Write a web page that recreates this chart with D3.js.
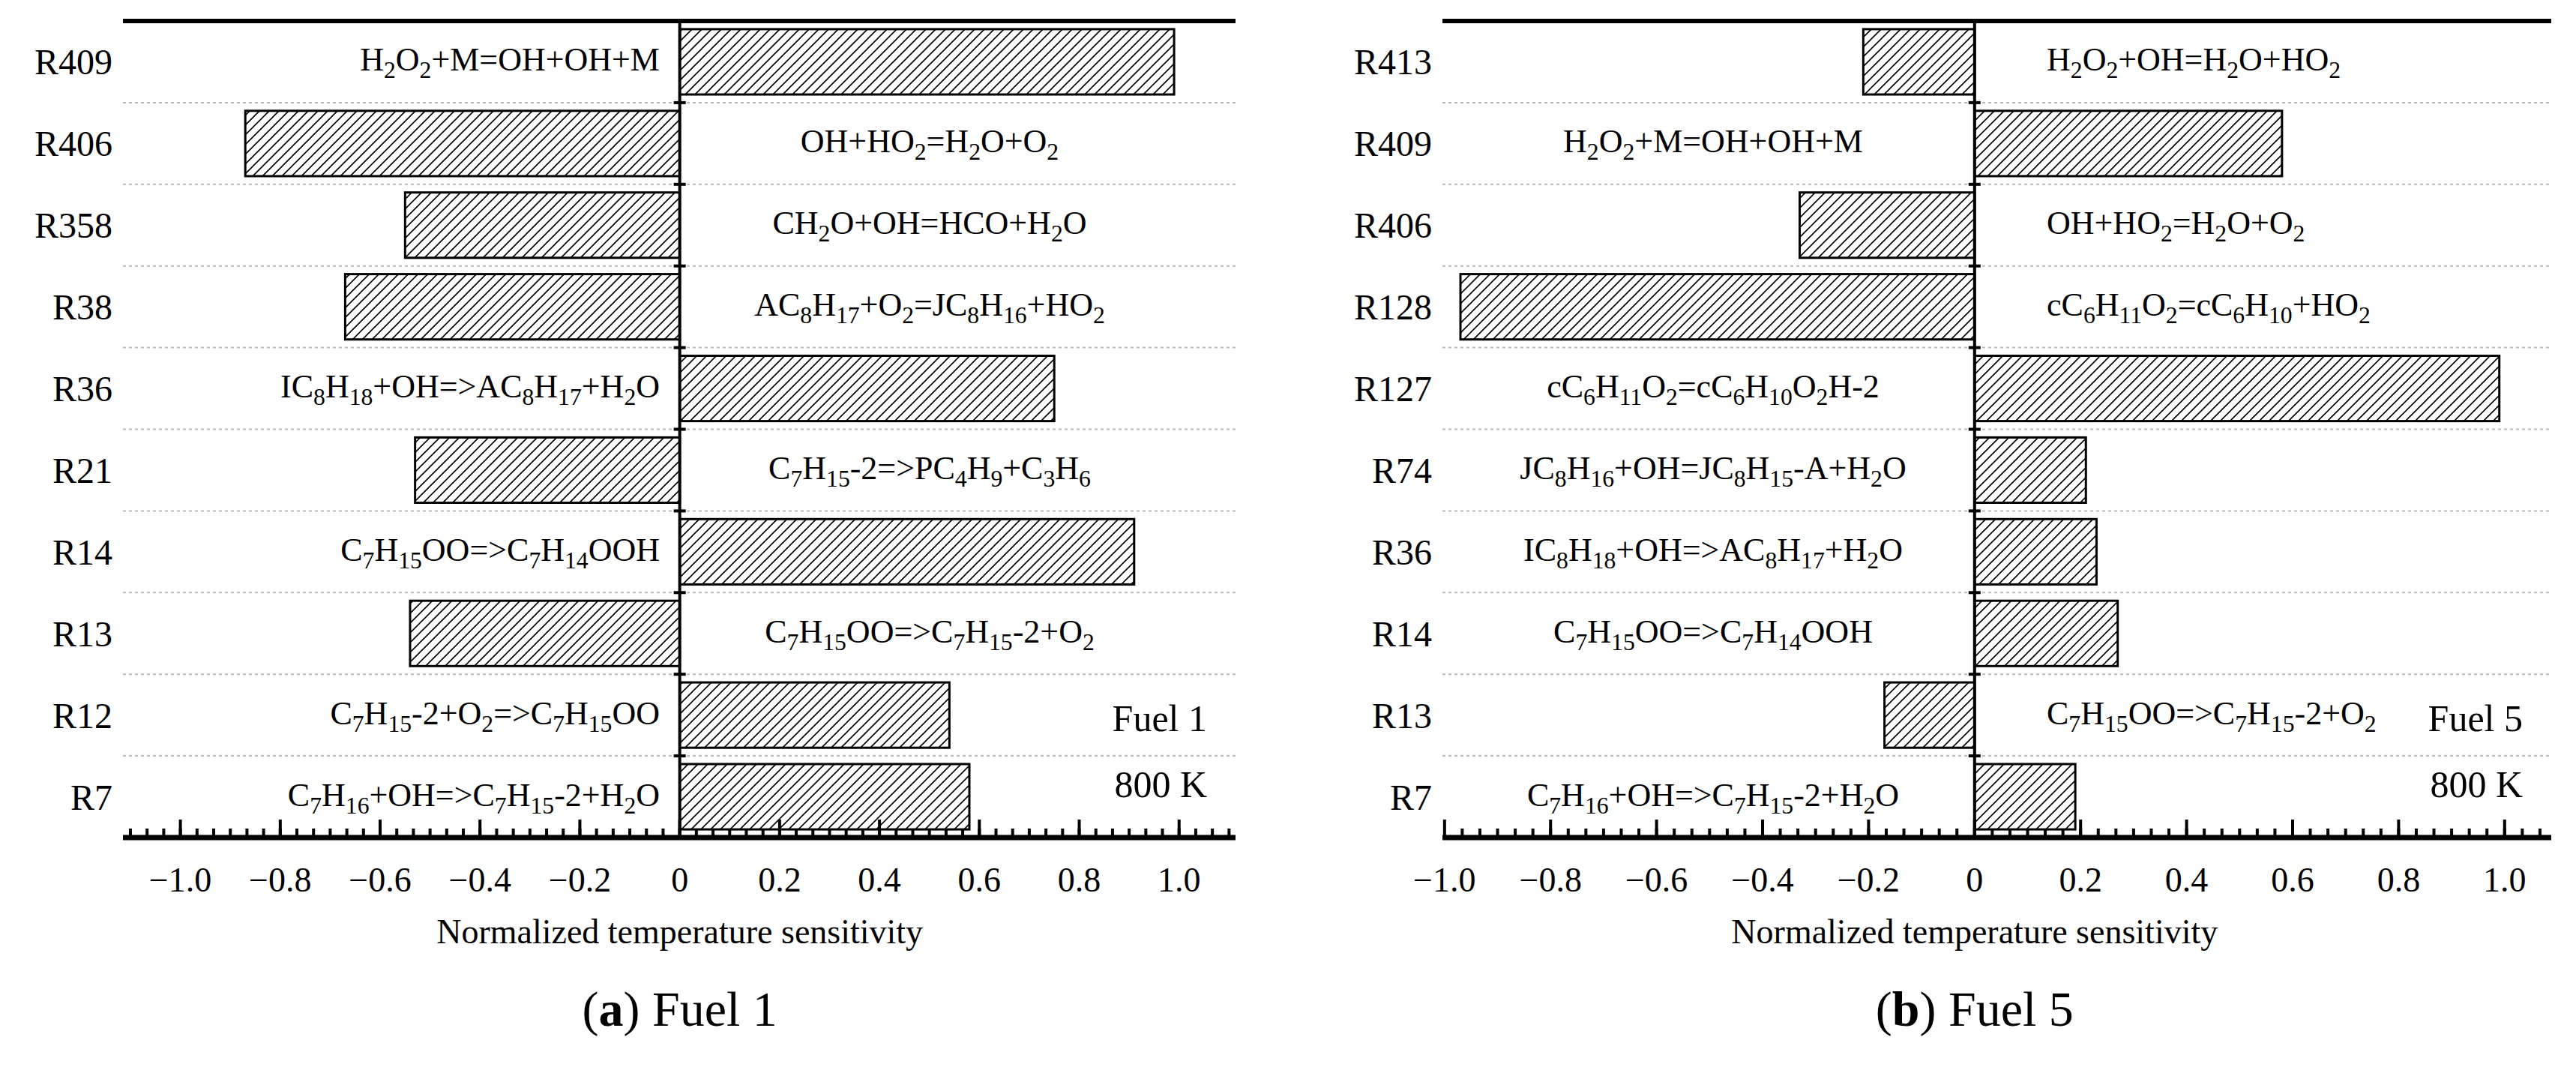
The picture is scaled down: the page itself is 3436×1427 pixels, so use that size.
<!DOCTYPE html>
<html><head><meta charset="utf-8">
<script src="https://cdn.jsdelivr.net/npm/d3@7"></script>
<style>body{margin:0;background:#fff}svg{display:block;font-family:"Liberation Serif","DejaVu Serif",serif}</style>
</head><body>
<svg id="chart" width="3436" height="1427"></svg>
<script>
// panel (a) Fuel 1
const idsA = ["R409","R406","R358","R38","R36","R21","R14","R13","R12","R7"];
const rxA = ["H_2O_2+M=OH+OH+M","OH+HO_2=H_2O+O_2","CH_2O+OH=HCO+H_2O","AC_8H_17+O_2=JC_8H_16+HO_2",
  "IC_8H_18+OH=>AC_8H_17+H_2O","C_7H_15-2=>PC_4H_9+C_3H_6","C_7H_15OO=>C_7H_14OOH",
  "C_7H_15OO=>C_7H_15-2+O_2","C_7H_15-2+O_2=>C_7H_15OO","C_7H_16+OH=>C_7H_15-2+H_2O"];
const valsA = [0.99,-0.87,-0.55,-0.67,0.75,-0.53,0.91,-0.54,0.54,0.58];
// panel (b) Fuel 5
const idsB = ["R413","R409","R406","R128","R127","R74","R36","R14","R13","R7"];
const rxB = ["H_2O_2+OH=H_2O+HO_2","H_2O_2+M=OH+OH+M","OH+HO_2=H_2O+O_2","cC_6H_11O_2=cC_6H_10+HO_2",
  "cC_6H_11O_2=cC_6H_10O_2H-2","JC_8H_16+OH=JC_8H_15-A+H_2O","IC_8H_18+OH=>AC_8H_17+H_2O",
  "C_7H_15OO=>C_7H_14OOH","C_7H_15OO=>C_7H_15-2+O_2","C_7H_16+OH=>C_7H_15-2+H_2O"];
const valsB = [-0.21,0.58,-0.33,-0.97,0.99,0.21,0.23,0.27,-0.17,0.19];
const majorTicks = [-1.0,-0.8,-0.6,-0.4,-0.2,0,0.2,0.4,0.6,0.8,1.0];

const svg = d3.select("#chart");
const defs = svg.append("defs");
const pat = defs.append("pattern").attr("id","hatch").attr("patternUnits","userSpaceOnUse")
  .attr("width",13).attr("height",13);
pat.append("rect").attr("width",13).attr("height",13).attr("fill","#fff");
pat.append("path").attr("d","M-2,2 l4,-4 M0,13 l13,-13 M11,15 l4,-4").attr("stroke","#000").attr("stroke-width",1.6);

// text with _n subscripts
function formula(sel, s){
  let sub = false;
  s.split(/(_\d+)/).filter(p=>p.length).forEach(p=>{
    if(p[0]==="_"){
      sel.append("tspan").attr("font-size","0.72em").attr("dy",sub?0:10).text(p.slice(1));
      sub = true;
    } else {
      sel.append("tspan").attr("dy",sub?-10:0).text(p);
      sub = false;
    }
  });
}

function panel(o){
  const g = svg.append("g");
  const x = d3.scaleLinear().domain(o.domain).range([o.left,o.right]);
  const y = d3.scaleBand().domain(o.ids).range([28,1117]).paddingInner(0.2).paddingOuter(0.1);
  const step = y.step();
  o.ids.slice(1).forEach(id=>{
    const yy = y(id) - y.paddingInner()*step/2;
    g.append("line").attr("x1",o.left).attr("x2",o.right).attr("y1",yy).attr("y2",yy)
      .attr("stroke","#bbb").attr("stroke-width",2).attr("stroke-dasharray","4,4");
    g.append("line").attr("x1",x(0)-8).attr("x2",x(0)+8).attr("y1",yy).attr("y2",yy).attr("stroke","#000").attr("stroke-width",4);
  });
  g.selectAll("rect.bar").data(o.vals).enter().append("rect").attr("class","bar")
    .attr("x",d=>x(Math.min(0,d))).attr("width",d=>Math.abs(x(d)-x(0)))
    .attr("y",(d,i)=>y(o.ids[i])).attr("height",y.bandwidth())
    .attr("fill","url(#hatch)").attr("stroke","#000").attr("stroke-width",3);
  g.append("line").attr("x1",x(0)).attr("x2",x(0)).attr("y1",28).attr("y2",1117).attr("stroke","#000").attr("stroke-width",4);
  g.append("line").attr("x1",o.left).attr("x2",o.right).attr("y1",28).attr("y2",28).attr("stroke","#000").attr("stroke-width",6);
  const ax = g.append("g").attr("transform","translate(0,1117)");
  ax.append("line").attr("x1",o.left).attr("x2",o.right).attr("stroke","#000").attr("stroke-width",7);
  const minor = d3.range(-36,37).map(k=>k*0.2/6).filter(v=>x(v)>=o.left+4&&x(v)<=o.right-4);
  ax.selectAll("line.mn").data(minor).enter().append("line").attr("x1",d=>x(d)).attr("x2",d=>x(d))
    .attr("y1",0).attr("y2",-12).attr("stroke","#000").attr("stroke-width",4);
  ax.selectAll("line.mj").data(majorTicks).enter().append("line").attr("x1",d=>x(d)).attr("x2",d=>x(d))
    .attr("y1",0).attr("y2",-24).attr("stroke","#000").attr("stroke-width",4);
  ax.selectAll("text").data(majorTicks).enter().append("text").attr("x",d=>x(d)).attr("y",72)
    .attr("text-anchor","middle").attr("font-size",46)
    .text(d=>d===0?"0":(d<0?"\u2212":"")+Math.abs(d).toFixed(1));
  g.append("text").attr("x",x(0)).attr("y",1258).attr("text-anchor","middle").attr("font-size",46)
    .text("Normalized temperature sensitivity");
  g.selectAll("text.id").data(o.ids).enter().append("text").attr("x",o.left-14)
    .attr("y",d=>y(d)+y.bandwidth()/2+17).attr("text-anchor","end").attr("font-size",48).text(d=>d);
  o.rx.forEach((r,i)=>{
    const pos = o.vals[i]>0;
    const t = g.append("text").attr("font-size",44)
      .attr("y",y(o.ids[i])+y.bandwidth()/2+12)
      .attr("x", pos ? o.leftLabelX : o.rightLabelX)
      .attr("text-anchor", pos ? o.leftAnchor : o.rightAnchor);
    formula(t,r);
  });
  g.append("text").attr("x",o.right-38).attr("y",975).attr("text-anchor","end").attr("font-size",50).text(o.fuel);
  g.append("text").attr("x",o.right-38).attr("y",1063).attr("text-anchor","end").attr("font-size",50).text("800 K");
  const cap = g.append("text").attr("x",x(0)).attr("y",1368).attr("text-anchor","middle").attr("font-size",66);
  cap.append("tspan").text("(");
  cap.append("tspan").attr("font-weight","bold").text(o.letter);
  cap.append("tspan").text(") "+o.fuel);
}

panel({ids:idsA,rx:rxA,vals:valsA,domain:[-1.115,1.113],left:164,right:1648,fuel:"Fuel 1",letter:"a",
  leftLabelX:880,leftAnchor:"end",rightLabelX:1240,rightAnchor:"middle"});
panel({ids:idsB,rx:rxB,vals:valsB,domain:[-1.004,1.088],left:1924,right:3403,fuel:"Fuel 5",letter:"b",
  leftLabelX:2285,leftAnchor:"middle",rightLabelX:2730,rightAnchor:"start"});
</script>
</body></html>
